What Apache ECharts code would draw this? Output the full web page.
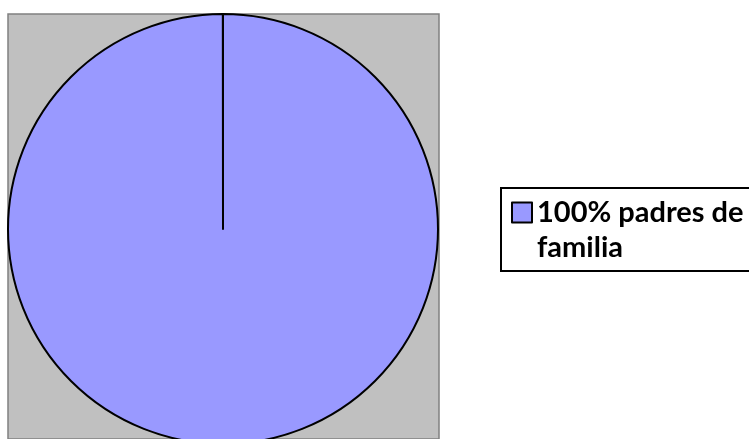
<!DOCTYPE html>
<html>
<head>
<meta charset="utf-8">
<script src="https://cdn.jsdelivr.net/npm/echarts@6/dist/echarts.min.js"></script>
<style>
  html, body { margin: 0; padding: 0; background: #fff; }
  #chart { width: 749px; height: 439px; }
</style>
</head>
<body>
<div id="chart"></div>
<script>
// datos del grafico
const categories = ['100% padres de familia'];
const values = [100];
const colors = ['#9999ff'];

const myChart = echarts.init(document.getElementById('chart'));

const option = {
  animation: false,
  backgroundColor: '#ffffff',
  // area de trazado gris
  grid: {
    show: true,
    left: 8,
    top: 14,
    width: 431,
    height: 450,
    backgroundColor: '#c0c0c0',
    borderColor: '#808080',
    borderWidth: 1.5
  },
  xAxis: { show: false, type: 'value' },
  yAxis: { show: false, type: 'value' },
  // marco de la leyenda
  graphic: [
    {
      type: 'rect',
      z: 0,
      shape: { x: 501, y: 188, width: 270, height: 83 },
      style: { fill: '#fff', stroke: '#000', lineWidth: 2 }
    }
  ],
  legend: {
    orient: 'vertical',
    left: 511,
    top: 160,
    padding: 0,
    icon: 'rect',
    itemWidth: 20,
    itemHeight: 20,
    itemGap: 0,
    itemStyle: { borderColor: '#000', borderWidth: 2 },
    // linea vacia arriba para que el cuadro quede junto a la primera linea
    formatter: (name) => '\n' + name,
    textStyle: {
      fontFamily: 'Lato',
      fontWeight: 'bold',
      fontSize: 29,
      color: '#000',
      width: 230,
      overflow: 'break',
      lineHeight: 35
    },
    data: categories
  },
  series: [
    {
      type: 'pie',
      center: [223, 229],
      radius: 215,
      startAngle: 90,
      endAngle: -269.95,
      clockwise: true,
      label: { show: false },
      labelLine: { show: false },
      silent: true,
      itemStyle: { borderColor: '#000', borderWidth: 2 },
      data: categories.map((name, i) => ({
        name: name,
        value: values[i],
        itemStyle: { color: colors[i] }
      }))
    }
  ]
};
myChart.setOption(option);
</script>
</body>
</html>
